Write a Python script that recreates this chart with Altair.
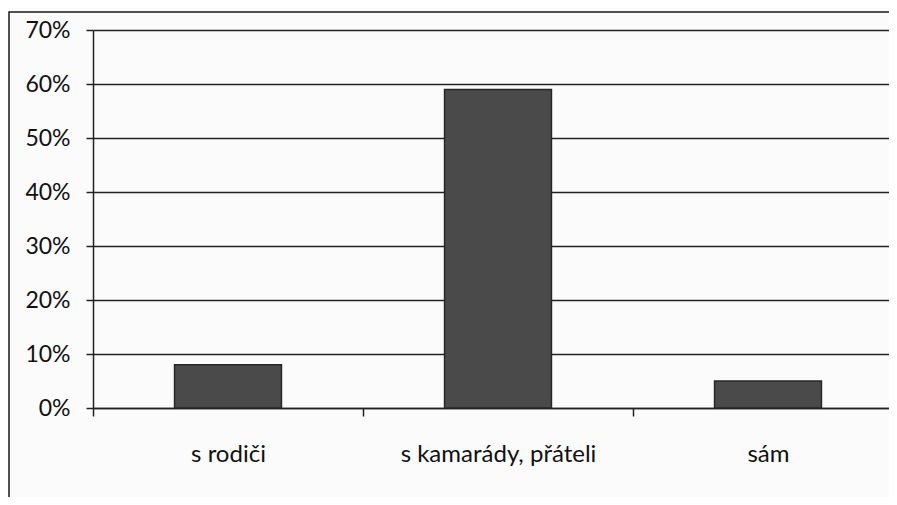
import altair as alt
import pandas as pd

categories = ["s rodiči", "s kamarády, přáteli", "sám"]
values = [0.08, 0.59, 0.05]

df = pd.DataFrame({"kategorie": categories, "hodnota": values})
frame_df = pd.DataFrame({"f": [1]})

FONT = "Lato"

bars = alt.Chart(df).mark_bar(
    color="#4a4a4a", stroke="#262626", strokeWidth=1.5,
    width=alt.RelativeBandSize(band=0.396),
).encode(
    x=alt.X(
        "kategorie:N",
        sort=categories,
        title=None,
        scale=alt.Scale(paddingInner=0, paddingOuter=0, rangeMax=810),
        axis=alt.Axis(
            labelAngle=0,
            labelFont=FONT,
            labelFontSize=24,
            labelColor="#111111",
            labelPadding=26,
            labelLimit=0,
            labelOverlap=False,
            tickBand="extent",
            ticks=True,
            tickSize=8,
            tickColor="#222222",
            tickWidth=1.5,
            domainColor="#222222",
            domainWidth=1.5,
            grid=False,
        ),
    ),
    y=alt.Y(
        "hodnota:Q",
        title=None,
        scale=alt.Scale(domain=[0, 0.7], nice=False),
        axis=alt.Axis(
            format=".0%",
            values=[0, 0.1, 0.2, 0.3, 0.4, 0.5, 0.6, 0.7],
            labelFont=FONT,
            labelFontSize=23,
            labelColor="#111111",
            labelPadding=16,
            tickSize=7,
            tickColor="#222222",
            tickWidth=1.5,
            domainColor="#222222",
            domainWidth=1.5,
            grid=True,
            gridColor="#222222",
            gridWidth=1.5,
        ),
    ),
)

frame = alt.Chart(frame_df).mark_rect(
    filled=False, stroke="#1a1a1a", strokeWidth=1.5
).encode(
    x=alt.value(-84), x2=alt.value(1000), y=alt.value(-18), y2=alt.value(600)
)

chart = alt.layer(bars, frame).properties(
    width=796,
    height=378,
    padding={"left": 85, "top": 22, "right": 0, "bottom": 89},
    autosize=alt.AutoSizeParams(type="none"),
    background="#fbfbfb",
).configure_view(stroke=None)

chart.save("out.html", embed_options={"renderer": "svg", "actions": False})
